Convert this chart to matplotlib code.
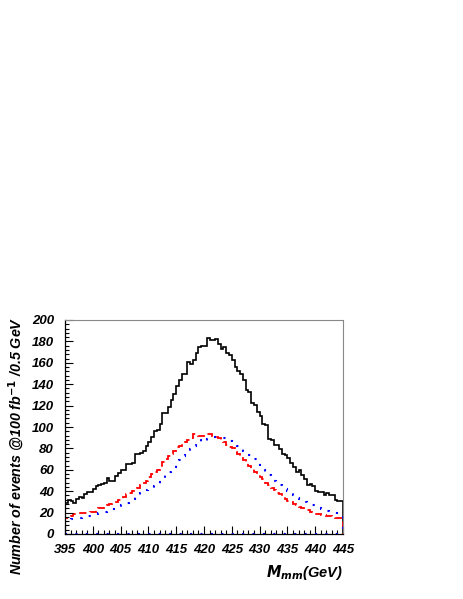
import numpy as np
import matplotlib
matplotlib.use('Agg')
import matplotlib.pyplot as plt
from matplotlib.ticker import MultipleLocator

# M_mm distribution, 100 bins of 0.5 GeV between 395 and 445 GeV
edges = np.linspace(395, 445, 101)

total = [29, 32, 31, 29, 33, 35, 34, 37, 39, 39,
         42, 45, 46, 47, 48, 52, 50, 50, 54, 57,
         60, 60, 65, 65, 66, 75, 75, 76, 78, 82,
         86, 91, 96, 97, 103, 113, 113, 119, 125, 131,
         138, 144, 150, 150, 161, 159, 163, 169, 175, 176,
         176, 183, 181, 181, 182, 178, 173, 175, 169, 167,
         163, 156, 152, 150, 144, 135, 133, 122, 121, 114,
         110, 103, 102, 89, 88, 83, 83, 79, 75, 74,
         71, 66, 63, 58, 60, 55, 51, 46, 47, 45,
         40, 39, 39, 36, 38, 36, 36, 32, 31, 31]

red = [15, 15, 17, 19, 19, 20, 20, 20, 20, 21,
       21, 22, 24, 24, 26, 27, 28, 29, 30, 32,
       33, 35, 37, 38, 40, 42, 43, 46, 48, 50,
       53, 56, 58, 60, 63, 67, 70, 73, 75, 78,
       81, 82, 85, 86, 88, 90, 93, 93, 92, 92,
       93, 93, 93, 92, 91, 90, 88, 86, 83, 81,
       80, 77, 75, 72, 69, 67, 64, 61, 58, 55,
       53, 51, 48, 46, 43, 41, 38, 37, 35, 33,
       31, 30, 28, 27, 25, 24, 23, 22, 21, 20,
       19, 19, 18, 18, 17, 17, 16, 15, 15, 15]

blue = [12, 13, 14, 14, 14, 15, 16, 16, 17, 17,
        17, 18, 20, 21, 21, 22, 22, 23, 24, 25,
        27, 28, 29, 31, 33, 35, 36, 38, 39, 41,
        42, 43, 45, 47, 49, 51, 55, 58, 61, 63,
        65, 69, 73, 75, 76, 79, 82, 85, 88, 86,
        87, 89, 90, 91, 91, 90, 90, 90, 89, 87,
        85, 83, 82, 80, 78, 77, 74, 72, 70, 67,
        64, 60, 57, 55, 52, 50, 48, 46, 44, 42,
        40, 38, 36, 34, 32.5, 31, 30, 29, 28, 27,
        26, 24.5, 23, 22, 21.5, 21, 20, 19.5, 19, 18.5]

plt.rcParams['font.family'] = ['Liberation Sans', 'DejaVu Sans']

fig = plt.figure(figsize=(4.63, 5.99), dpi=100)
ax = fig.add_axes([65/463, 65/599, 278/463, 214/599])

ax.stairs(total, edges, baseline=0, color='black', lw=1.2)
ax.stairs(red, edges, baseline=0, color='red', lw=1.3, linestyle=(0, (4, 2.5)))
ax.stairs(blue, edges, baseline=0, color='blue', lw=1.5, linestyle=(0, (1, 4)))
ax.axhline(0, color='blue', lw=1.5, linestyle=(0, (1, 4)))

ax.set_xlim(395, 445)
ax.set_ylim(0, 200)

ax.xaxis.set_major_locator(MultipleLocator(5))
ax.xaxis.set_minor_locator(MultipleLocator(1))
ax.yaxis.set_major_locator(MultipleLocator(20))
ax.yaxis.set_minor_locator(MultipleLocator(4))
ax.tick_params(which='both', direction='in', top=False, right=False, width=0.8)
ax.tick_params(which='major', length=6)
ax.tick_params(which='minor', length=3)
ax.tick_params(axis='x', which='major', pad=7)
ax.tick_params(axis='y', which='major', pad=8)
for lab in ax.get_xticklabels() + ax.get_yticklabels():
    lab.set_fontsize(9.5)
    lab.set_fontweight('bold')
    lab.set_fontstyle('italic')

ax.spines['left'].set_linewidth(0.9)
ax.spines['bottom'].set_linewidth(0.9)
ax.spines['top'].set_color('#888888')
ax.spines['right'].set_color('#888888')
ax.spines['top'].set_linewidth(0.8)
ax.spines['right'].set_linewidth(0.8)

fig.text(17/463, 1 - 317/599, r'Number of events @100 fb$^{\mathbf{-1}}$ /0.5 GeV',
         rotation=90, ha='center', va='top', fontsize=10.3,
         fontweight='bold', fontstyle='italic')
fig.text(343/463, 1 - 573/599, r'$\mathbfit{M}_{\mathbfit{mm}}$(GeV)',
         ha='right', va='center', fontsize=10.5,
         fontweight='bold', fontstyle='italic')

fig.savefig('out.png', dpi=100)
